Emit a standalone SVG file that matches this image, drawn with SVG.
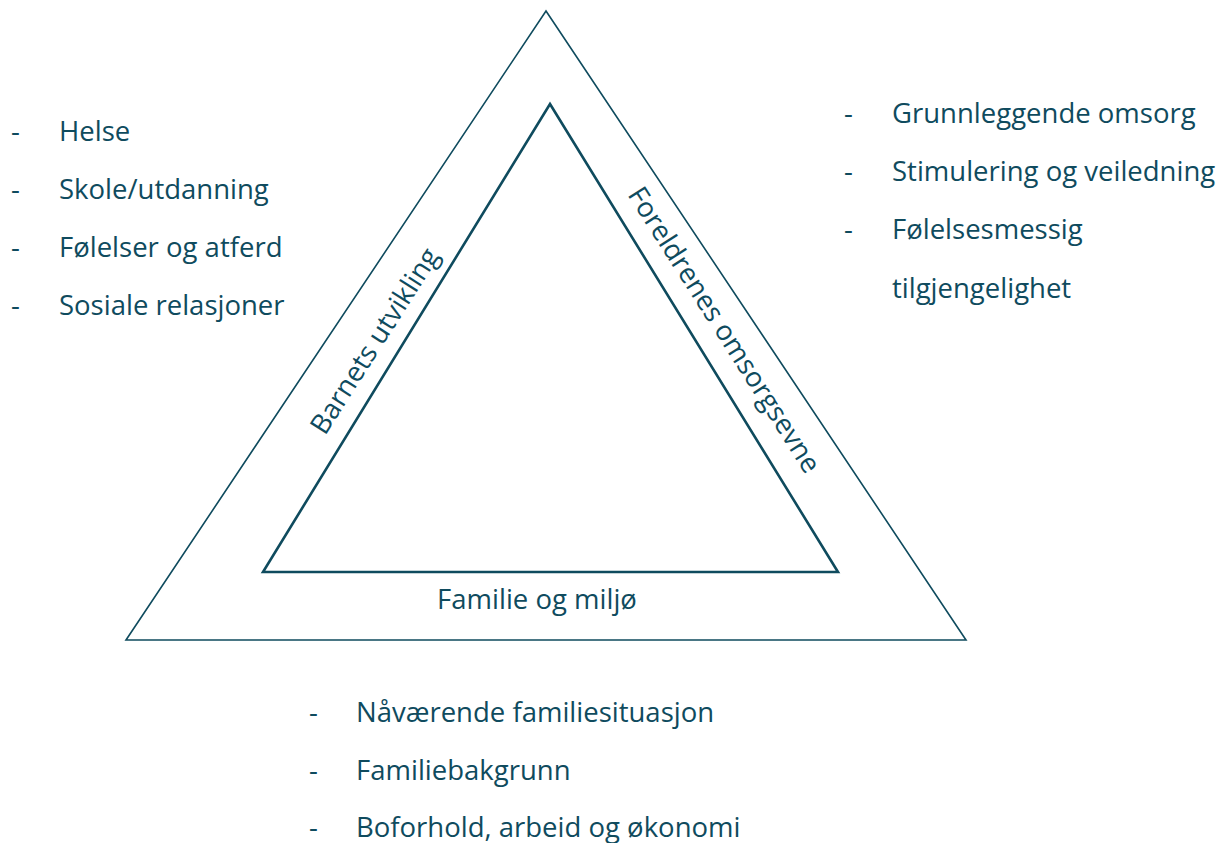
<svg xmlns="http://www.w3.org/2000/svg" width="1230" height="843" viewBox="0 0 1230 843">
<style>
.t{font-family:"Open Sans","Liberation Sans",sans-serif;font-size:27.5px;fill:#0f4b5e}
.edge{fill:none;stroke:#0f4b5e;stroke-linejoin:miter}
</style>
<rect width="1230" height="843" fill="#fff"/>
<g id="connectors">
<polygon id="outer" class="edge" stroke-width="1.6" points="546,11 966,640 126,640"/>
<polygon id="inner" class="edge" stroke-width="2.6" points="550,104 838,572 263,572"/>
</g>
<g id="label-barnets">
<text class="t" transform="translate(375,341) rotate(-57.5)" text-anchor="middle" dy="9">Barnets utvikling</text>
</g>
<g id="label-foreldrenes">
<text class="t" transform="translate(724,330) rotate(57.5)" text-anchor="middle" dy="9">Foreldrenes omsorgsevne</text>
</g>
<g id="label-familie">
<text class="t" x="537" y="609" text-anchor="middle">Familie og miljø</text>
</g>
<g id="list-left">
<text class="t" x="11" y="141">-</text><text class="t" x="59" y="141">Helse</text>
<text class="t" x="11" y="199">-</text><text class="t" x="59" y="199">Skole/utdanning</text>
<text class="t" x="11" y="257">-</text><text class="t" x="59" y="257">Følelser og atferd</text>
<text class="t" x="11" y="315">-</text><text class="t" x="59" y="315">Sosiale relasjoner</text>
</g>
<g id="list-right">
<text class="t" x="844" y="123">-</text><text class="t" x="892" y="123">Grunnleggende omsorg</text>
<text class="t" x="844" y="181">-</text><text class="t" x="892" y="181">Stimulering og veiledning</text>
<text class="t" x="844" y="239">-</text><text class="t" x="892" y="239">Følelsesmessig</text>
<text class="t" x="892" y="298">tilgjengelighet</text>
</g>
<g id="list-bottom">
<text class="t" x="309" y="722">-</text><text class="t" x="356" y="722">Nåværende familiesituasjon</text>
<text class="t" x="309" y="780">-</text><text class="t" x="356" y="780">Familiebakgrunn</text>
<text class="t" x="309" y="837">-</text><text class="t" x="356" y="837">Boforhold, arbeid og økonomi</text>
</g>
</svg>
